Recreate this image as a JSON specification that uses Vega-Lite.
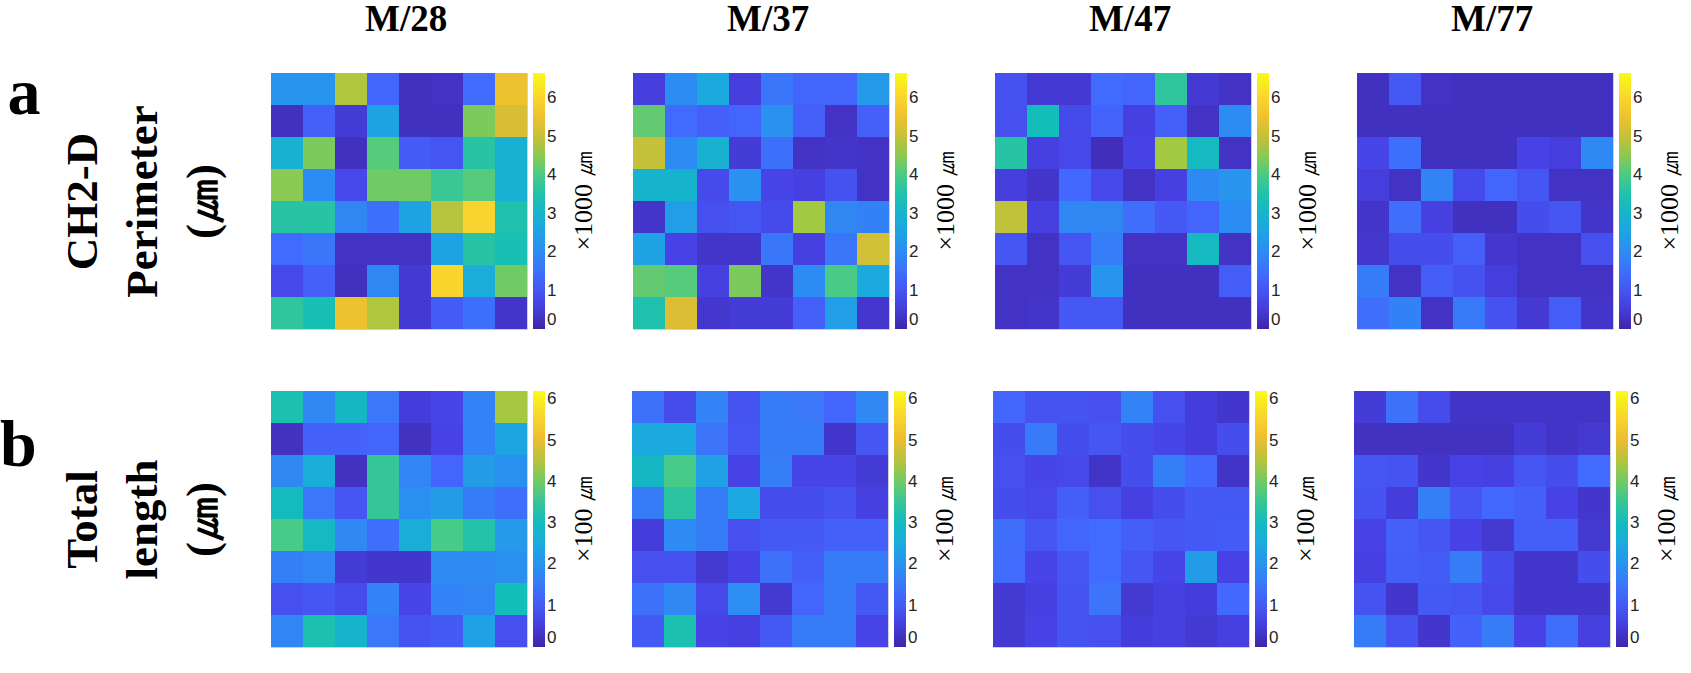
{
"$schema": "https://vega.github.io/schema/vega-lite/v6.json",
"padding": {"left": 0, "top": 0, "right": 0, "bottom": 5},
"background": "white",
"config": {
 "view": {"stroke": "#d0d0d0", "strokeWidth": 1},
 "legend": {"orient": "right", "direction": "vertical", "gradientLength": 256, "gradientThickness": 12, "offset": 6, "padding": 0, "gradientStrokeWidth": 0, "labelFont": "Liberation Sans", "labelFontSize": 17, "labelColor": "#262626", "labelOffset": 5, "labelBaseline": "middle", "labelOverlap": false, "titleOrient": "right", "titleFont": "Liberation Serif", "titleFontSize": 26, "titleFontWeight": "normal", "titleColor": "#000", "titleAnchor": "middle", "titlePadding": 15, "titleLimit": 400}
},
"datasets": {
"a28": [{"r":1,"c":1,"v":2.2},{"r":1,"c":2,"v":2.2},{"r":1,"c":3,"v":4.8},{"r":1,"c":4,"v":1.3},{"r":1,"c":5,"v":0.25},{"r":1,"c":6,"v":0.3},{"r":1,"c":7,"v":1.4},{"r":1,"c":8,"v":5.5},
{"r":2,"c":1,"v":0.25},{"r":2,"c":2,"v":1.2},{"r":2,"c":3,"v":0.5},{"r":2,"c":4,"v":2.5},{"r":2,"c":5,"v":0.25},{"r":2,"c":6,"v":0.25},{"r":2,"c":7,"v":4.4},{"r":2,"c":8,"v":5.15},
{"r":3,"c":1,"v":2.9},{"r":3,"c":2,"v":4.4},{"r":3,"c":3,"v":0.25},{"r":3,"c":4,"v":4.1},{"r":3,"c":5,"v":1.1},{"r":3,"c":6,"v":1.0},{"r":3,"c":7,"v":3.6},{"r":3,"c":8,"v":2.9},
{"r":4,"c":1,"v":4.5},{"r":4,"c":2,"v":2.0},{"r":4,"c":3,"v":0.75},{"r":4,"c":4,"v":4.3},{"r":4,"c":5,"v":4.3},{"r":4,"c":6,"v":3.8},{"r":4,"c":7,"v":4.1},{"r":4,"c":8,"v":2.9},
{"r":5,"c":1,"v":3.6},{"r":5,"c":2,"v":3.6},{"r":5,"c":3,"v":1.9},{"r":5,"c":4,"v":1.5},{"r":5,"c":5,"v":2.5},{"r":5,"c":6,"v":4.85},{"r":5,"c":7,"v":5.95},{"r":5,"c":8,"v":3.5},
{"r":6,"c":1,"v":1.4},{"r":6,"c":2,"v":1.6},{"r":6,"c":3,"v":0.3},{"r":6,"c":4,"v":0.3},{"r":6,"c":5,"v":0.3},{"r":6,"c":6,"v":2.5},{"r":6,"c":7,"v":3.6},{"r":6,"c":8,"v":3.4},
{"r":7,"c":1,"v":0.75},{"r":7,"c":2,"v":1.2},{"r":7,"c":3,"v":0.25},{"r":7,"c":4,"v":1.9},{"r":7,"c":5,"v":0.45},{"r":7,"c":6,"v":6.0},{"r":7,"c":7,"v":2.75},{"r":7,"c":8,"v":4.3},
{"r":8,"c":1,"v":3.7},{"r":8,"c":2,"v":3.4},{"r":8,"c":3,"v":5.5},{"r":8,"c":4,"v":4.8},{"r":8,"c":5,"v":0.45},{"r":8,"c":6,"v":1.1},{"r":8,"c":7,"v":1.5},{"r":8,"c":8,"v":0.35}],
"a37": [{"r":1,"c":1,"v":0.55},{"r":1,"c":2,"v":2.0},{"r":1,"c":3,"v":2.7},{"r":1,"c":4,"v":0.55},{"r":1,"c":5,"v":1.6},{"r":1,"c":6,"v":1.3},{"r":1,"c":7,"v":1.3},{"r":1,"c":8,"v":2.3},
{"r":2,"c":1,"v":4.2},{"r":2,"c":2,"v":1.4},{"r":2,"c":3,"v":1.2},{"r":2,"c":4,"v":1.3},{"r":2,"c":5,"v":2.1},{"r":2,"c":6,"v":1.2},{"r":2,"c":7,"v":0.3},{"r":2,"c":8,"v":1.2},
{"r":3,"c":1,"v":5.0},{"r":3,"c":2,"v":2.0},{"r":3,"c":3,"v":2.9},{"r":3,"c":4,"v":0.5},{"r":3,"c":5,"v":1.5},{"r":3,"c":6,"v":0.3},{"r":3,"c":7,"v":0.35},{"r":3,"c":8,"v":0.3},
{"r":4,"c":1,"v":3.0},{"r":4,"c":2,"v":3.0},{"r":4,"c":3,"v":0.8},{"r":4,"c":4,"v":2.1},{"r":4,"c":5,"v":0.7},{"r":4,"c":6,"v":0.6},{"r":4,"c":7,"v":0.95},{"r":4,"c":8,"v":0.3},
{"r":5,"c":1,"v":0.35},{"r":5,"c":2,"v":2.4},{"r":5,"c":3,"v":0.9},{"r":5,"c":4,"v":1.0},{"r":5,"c":5,"v":0.8},{"r":5,"c":6,"v":4.7},{"r":5,"c":7,"v":1.9},{"r":5,"c":8,"v":1.8},
{"r":6,"c":1,"v":2.5},{"r":6,"c":2,"v":0.65},{"r":6,"c":3,"v":0.35},{"r":6,"c":4,"v":0.35},{"r":6,"c":5,"v":1.6},{"r":6,"c":6,"v":0.6},{"r":6,"c":7,"v":1.6},{"r":6,"c":8,"v":5.1},
{"r":7,"c":1,"v":4.2},{"r":7,"c":2,"v":4.1},{"r":7,"c":3,"v":0.6},{"r":7,"c":4,"v":4.4},{"r":7,"c":5,"v":0.35},{"r":7,"c":6,"v":2.0},{"r":7,"c":7,"v":4.0},{"r":7,"c":8,"v":2.7},
{"r":8,"c":1,"v":3.5},{"r":8,"c":2,"v":5.2},{"r":8,"c":3,"v":0.4},{"r":8,"c":4,"v":0.5},{"r":8,"c":5,"v":0.5},{"r":8,"c":6,"v":1.2},{"r":8,"c":7,"v":2.4},{"r":8,"c":8,"v":0.4}],
"a47": [{"r":1,"c":1,"v":0.95},{"r":1,"c":2,"v":0.45},{"r":1,"c":3,"v":0.45},{"r":1,"c":4,"v":1.4},{"r":1,"c":5,"v":1.3},{"r":1,"c":6,"v":3.7},{"r":1,"c":7,"v":0.45},{"r":1,"c":8,"v":0.3},
{"r":2,"c":1,"v":0.9},{"r":2,"c":2,"v":3.3},{"r":2,"c":3,"v":0.8},{"r":2,"c":4,"v":1.25},{"r":2,"c":5,"v":0.6},{"r":2,"c":6,"v":1.2},{"r":2,"c":7,"v":0.3},{"r":2,"c":8,"v":2.0},
{"r":3,"c":1,"v":3.6},{"r":3,"c":2,"v":0.6},{"r":3,"c":3,"v":0.75},{"r":3,"c":4,"v":0.2},{"r":3,"c":5,"v":0.65},{"r":3,"c":6,"v":4.7},{"r":3,"c":7,"v":3.2},{"r":3,"c":8,"v":0.3},
{"r":4,"c":1,"v":0.55},{"r":4,"c":2,"v":0.35},{"r":4,"c":3,"v":1.35},{"r":4,"c":4,"v":0.75},{"r":4,"c":5,"v":0.3},{"r":4,"c":6,"v":0.6},{"r":4,"c":7,"v":1.95},{"r":4,"c":8,"v":2.2},
{"r":5,"c":1,"v":4.95},{"r":5,"c":2,"v":0.6},{"r":5,"c":3,"v":1.9},{"r":5,"c":4,"v":1.9},{"r":5,"c":5,"v":1.45},{"r":5,"c":6,"v":1.05},{"r":5,"c":7,"v":1.3},{"r":5,"c":8,"v":2.0},
{"r":6,"c":1,"v":1.0},{"r":6,"c":2,"v":0.3},{"r":6,"c":3,"v":1.0},{"r":6,"c":4,"v":1.75},{"r":6,"c":5,"v":0.3},{"r":6,"c":6,"v":0.3},{"r":6,"c":7,"v":3.2},{"r":6,"c":8,"v":0.3},
{"r":7,"c":1,"v":0.3},{"r":7,"c":2,"v":0.3},{"r":7,"c":3,"v":0.5},{"r":7,"c":4,"v":2.2},{"r":7,"c":5,"v":0.25},{"r":7,"c":6,"v":0.25},{"r":7,"c":7,"v":0.25},{"r":7,"c":8,"v":1.15},
{"r":8,"c":1,"v":0.3},{"r":8,"c":2,"v":0.35},{"r":8,"c":3,"v":1.05},{"r":8,"c":4,"v":1.05},{"r":8,"c":5,"v":0.25},{"r":8,"c":6,"v":0.25},{"r":8,"c":7,"v":0.25},{"r":8,"c":8,"v":0.25}],
"a77": [{"r":1,"c":1,"v":0.25},{"r":1,"c":2,"v":1.05},{"r":1,"c":3,"v":0.3},{"r":1,"c":4,"v":0.25},{"r":1,"c":5,"v":0.25},{"r":1,"c":6,"v":0.25},{"r":1,"c":7,"v":0.25},{"r":1,"c":8,"v":0.25},
{"r":2,"c":1,"v":0.25},{"r":2,"c":2,"v":0.25},{"r":2,"c":3,"v":0.25},{"r":2,"c":4,"v":0.25},{"r":2,"c":5,"v":0.25},{"r":2,"c":6,"v":0.25},{"r":2,"c":7,"v":0.25},{"r":2,"c":8,"v":0.25},
{"r":3,"c":1,"v":0.7},{"r":3,"c":2,"v":1.5},{"r":3,"c":3,"v":0.25},{"r":3,"c":4,"v":0.25},{"r":3,"c":5,"v":0.25},{"r":3,"c":6,"v":0.65},{"r":3,"c":7,"v":0.55},{"r":3,"c":8,"v":1.95},
{"r":4,"c":1,"v":0.55},{"r":4,"c":2,"v":0.3},{"r":4,"c":3,"v":1.85},{"r":4,"c":4,"v":0.8},{"r":4,"c":5,"v":1.3},{"r":4,"c":6,"v":1.0},{"r":4,"c":7,"v":0.3},{"r":4,"c":8,"v":0.3},
{"r":5,"c":1,"v":0.35},{"r":5,"c":2,"v":1.45},{"r":5,"c":3,"v":0.6},{"r":5,"c":4,"v":0.25},{"r":5,"c":5,"v":0.25},{"r":5,"c":6,"v":0.85},{"r":5,"c":7,"v":1.0},{"r":5,"c":8,"v":0.35},
{"r":6,"c":1,"v":0.4},{"r":6,"c":2,"v":0.85},{"r":6,"c":3,"v":0.85},{"r":6,"c":4,"v":1.2},{"r":6,"c":5,"v":0.4},{"r":6,"c":6,"v":0.3},{"r":6,"c":7,"v":0.3},{"r":6,"c":8,"v":0.9},
{"r":7,"c":1,"v":1.7},{"r":7,"c":2,"v":0.3},{"r":7,"c":3,"v":1.15},{"r":7,"c":4,"v":0.95},{"r":7,"c":5,"v":0.55},{"r":7,"c":6,"v":0.3},{"r":7,"c":7,"v":0.3},{"r":7,"c":8,"v":0.3},
{"r":8,"c":1,"v":1.45},{"r":8,"c":2,"v":1.8},{"r":8,"c":3,"v":0.3},{"r":8,"c":4,"v":1.65},{"r":8,"c":5,"v":0.95},{"r":8,"c":6,"v":0.45},{"r":8,"c":7,"v":1.15},{"r":8,"c":8,"v":0.35}],
"b28": [{"r":1,"c":1,"v":3.2},{"r":1,"c":2,"v":1.8},{"r":1,"c":3,"v":2.9},{"r":1,"c":4,"v":1.5},{"r":1,"c":5,"v":0.5},{"r":1,"c":6,"v":0.65},{"r":1,"c":7,"v":1.7},{"r":1,"c":8,"v":4.4},
{"r":2,"c":1,"v":0.25},{"r":2,"c":2,"v":1.15},{"r":2,"c":3,"v":1.15},{"r":2,"c":4,"v":1.2},{"r":2,"c":5,"v":0.25},{"r":2,"c":6,"v":0.6},{"r":2,"c":7,"v":1.7},{"r":2,"c":8,"v":2.4},
{"r":3,"c":1,"v":1.8},{"r":3,"c":2,"v":2.6},{"r":3,"c":3,"v":0.25},{"r":3,"c":4,"v":3.5},{"r":3,"c":5,"v":1.75},{"r":3,"c":6,"v":1.2},{"r":3,"c":7,"v":2.2},{"r":3,"c":8,"v":1.95},
{"r":4,"c":1,"v":3.0},{"r":4,"c":2,"v":1.5},{"r":4,"c":3,"v":0.95},{"r":4,"c":4,"v":3.5},{"r":4,"c":5,"v":1.95},{"r":4,"c":6,"v":2.2},{"r":4,"c":7,"v":1.6},{"r":4,"c":8,"v":1.35},
{"r":5,"c":1,"v":3.7},{"r":5,"c":2,"v":2.95},{"r":5,"c":3,"v":1.8},{"r":5,"c":4,"v":1.35},{"r":5,"c":5,"v":2.6},{"r":5,"c":6,"v":3.7},{"r":5,"c":7,"v":3.3},{"r":5,"c":8,"v":2.15},
{"r":6,"c":1,"v":1.65},{"r":6,"c":2,"v":1.75},{"r":6,"c":3,"v":0.45},{"r":6,"c":4,"v":0.35},{"r":6,"c":5,"v":0.35},{"r":6,"c":6,"v":1.85},{"r":6,"c":7,"v":1.85},{"r":6,"c":8,"v":1.95},
{"r":7,"c":1,"v":0.85},{"r":7,"c":2,"v":0.95},{"r":7,"c":3,"v":0.75},{"r":7,"c":4,"v":1.7},{"r":7,"c":5,"v":0.65},{"r":7,"c":6,"v":1.7},{"r":7,"c":7,"v":1.75},{"r":7,"c":8,"v":3.1},
{"r":8,"c":1,"v":1.75},{"r":8,"c":2,"v":3.2},{"r":8,"c":3,"v":2.8},{"r":8,"c":4,"v":1.5},{"r":8,"c":5,"v":0.9},{"r":8,"c":6,"v":1.0},{"r":8,"c":7,"v":2.3},{"r":8,"c":8,"v":0.85}],
"b37": [{"r":1,"c":1,"v":1.4},{"r":1,"c":2,"v":0.75},{"r":1,"c":3,"v":1.7},{"r":1,"c":4,"v":0.9},{"r":1,"c":5,"v":1.6},{"r":1,"c":6,"v":1.5},{"r":1,"c":7,"v":1.2},{"r":1,"c":8,"v":1.8},
{"r":2,"c":1,"v":2.5},{"r":2,"c":2,"v":2.5},{"r":2,"c":3,"v":1.45},{"r":2,"c":4,"v":0.95},{"r":2,"c":5,"v":1.6},{"r":2,"c":6,"v":1.6},{"r":2,"c":7,"v":0.35},{"r":2,"c":8,"v":0.95},
{"r":3,"c":1,"v":2.9},{"r":3,"c":2,"v":3.7},{"r":3,"c":3,"v":2.3},{"r":3,"c":4,"v":0.6},{"r":3,"c":5,"v":1.65},{"r":3,"c":6,"v":0.65},{"r":3,"c":7,"v":0.65},{"r":3,"c":8,"v":0.45},
{"r":4,"c":1,"v":1.6},{"r":4,"c":2,"v":3.4},{"r":4,"c":3,"v":1.6},{"r":4,"c":4,"v":2.45},{"r":4,"c":5,"v":0.8},{"r":4,"c":6,"v":0.8},{"r":4,"c":7,"v":0.9},{"r":4,"c":8,"v":0.55},
{"r":5,"c":1,"v":0.5},{"r":5,"c":2,"v":1.85},{"r":5,"c":3,"v":1.6},{"r":5,"c":4,"v":0.85},{"r":5,"c":5,"v":1.0},{"r":5,"c":6,"v":1.0},{"r":5,"c":7,"v":1.15},{"r":5,"c":8,"v":1.15},
{"r":6,"c":1,"v":0.85},{"r":6,"c":2,"v":0.85},{"r":6,"c":3,"v":0.4},{"r":6,"c":4,"v":0.6},{"r":6,"c":5,"v":1.4},{"r":6,"c":6,"v":1.1},{"r":6,"c":7,"v":1.6},{"r":6,"c":8,"v":1.6},
{"r":7,"c":1,"v":1.4},{"r":7,"c":2,"v":1.8},{"r":7,"c":3,"v":0.7},{"r":7,"c":4,"v":1.9},{"r":7,"c":5,"v":0.4},{"r":7,"c":6,"v":1.2},{"r":7,"c":7,"v":1.6},{"r":7,"c":8,"v":1.0},
{"r":8,"c":1,"v":1.0},{"r":8,"c":2,"v":3.2},{"r":8,"c":3,"v":0.6},{"r":8,"c":4,"v":0.55},{"r":8,"c":5,"v":1.0},{"r":8,"c":6,"v":1.6},{"r":8,"c":7,"v":1.6},{"r":8,"c":8,"v":0.65}],
"b47": [{"r":1,"c":1,"v":1.2},{"r":1,"c":2,"v":0.9},{"r":1,"c":3,"v":0.9},{"r":1,"c":4,"v":0.85},{"r":1,"c":5,"v":1.7},{"r":1,"c":6,"v":0.85},{"r":1,"c":7,"v":0.5},{"r":1,"c":8,"v":0.35},
{"r":2,"c":1,"v":0.8},{"r":2,"c":2,"v":1.55},{"r":2,"c":3,"v":0.8},{"r":2,"c":4,"v":0.95},{"r":2,"c":5,"v":0.8},{"r":2,"c":6,"v":0.65},{"r":2,"c":7,"v":0.5},{"r":2,"c":8,"v":0.8},
{"r":3,"c":1,"v":0.85},{"r":3,"c":2,"v":0.65},{"r":3,"c":3,"v":0.7},{"r":3,"c":4,"v":0.3},{"r":3,"c":5,"v":0.8},{"r":3,"c":6,"v":1.65},{"r":3,"c":7,"v":1.25},{"r":3,"c":8,"v":0.3},
{"r":4,"c":1,"v":0.8},{"r":4,"c":2,"v":0.7},{"r":4,"c":3,"v":1.1},{"r":4,"c":4,"v":0.85},{"r":4,"c":5,"v":0.55},{"r":4,"c":6,"v":0.8},{"r":4,"c":7,"v":1.0},{"r":4,"c":8,"v":1.0},
{"r":5,"c":1,"v":1.35},{"r":5,"c":2,"v":0.95},{"r":5,"c":3,"v":1.2},{"r":5,"c":4,"v":1.3},{"r":5,"c":5,"v":1.1},{"r":5,"c":6,"v":0.95},{"r":5,"c":7,"v":1.0},{"r":5,"c":8,"v":1.05},
{"r":6,"c":1,"v":1.3},{"r":6,"c":2,"v":0.65},{"r":6,"c":3,"v":0.95},{"r":6,"c":4,"v":1.3},{"r":6,"c":5,"v":0.95},{"r":6,"c":6,"v":0.65},{"r":6,"c":7,"v":2.2},{"r":6,"c":8,"v":0.6},
{"r":7,"c":1,"v":0.4},{"r":7,"c":2,"v":0.55},{"r":7,"c":3,"v":0.9},{"r":7,"c":4,"v":1.45},{"r":7,"c":5,"v":0.4},{"r":7,"c":6,"v":0.55},{"r":7,"c":7,"v":0.5},{"r":7,"c":8,"v":1.25},
{"r":8,"c":1,"v":0.4},{"r":8,"c":2,"v":0.6},{"r":8,"c":3,"v":0.9},{"r":8,"c":4,"v":0.85},{"r":8,"c":5,"v":0.5},{"r":8,"c":6,"v":0.55},{"r":8,"c":7,"v":0.4},{"r":8,"c":8,"v":0.55}],
"b77": [{"r":1,"c":1,"v":0.45},{"r":1,"c":2,"v":1.4},{"r":1,"c":3,"v":0.75},{"r":1,"c":4,"v":0.3},{"r":1,"c":5,"v":0.3},{"r":1,"c":6,"v":0.3},{"r":1,"c":7,"v":0.3},{"r":1,"c":8,"v":0.3},
{"r":2,"c":1,"v":0.25},{"r":2,"c":2,"v":0.25},{"r":2,"c":3,"v":0.25},{"r":2,"c":4,"v":0.25},{"r":2,"c":5,"v":0.25},{"r":2,"c":6,"v":0.45},{"r":2,"c":7,"v":0.3},{"r":2,"c":8,"v":0.4},
{"r":3,"c":1,"v":0.95},{"r":3,"c":2,"v":0.9},{"r":3,"c":3,"v":0.35},{"r":3,"c":4,"v":0.6},{"r":3,"c":5,"v":0.55},{"r":3,"c":6,"v":0.95},{"r":3,"c":7,"v":0.8},{"r":3,"c":8,"v":1.3},
{"r":4,"c":1,"v":0.9},{"r":4,"c":2,"v":0.5},{"r":4,"c":3,"v":1.65},{"r":4,"c":4,"v":0.95},{"r":4,"c":5,"v":1.25},{"r":4,"c":6,"v":1.15},{"r":4,"c":7,"v":0.6},{"r":4,"c":8,"v":0.35},
{"r":5,"c":1,"v":0.6},{"r":5,"c":2,"v":1.15},{"r":5,"c":3,"v":0.95},{"r":5,"c":4,"v":0.6},{"r":5,"c":5,"v":0.4},{"r":5,"c":6,"v":1.1},{"r":5,"c":7,"v":1.1},{"r":5,"c":8,"v":0.4},
{"r":6,"c":1,"v":0.55},{"r":6,"c":2,"v":1.1},{"r":6,"c":3,"v":1.05},{"r":6,"c":4,"v":1.6},{"r":6,"c":5,"v":0.8},{"r":6,"c":6,"v":0.35},{"r":6,"c":7,"v":0.35},{"r":6,"c":8,"v":0.8},
{"r":7,"c":1,"v":0.9},{"r":7,"c":2,"v":0.35},{"r":7,"c":3,"v":1.0},{"r":7,"c":4,"v":0.95},{"r":7,"c":5,"v":0.7},{"r":7,"c":6,"v":0.35},{"r":7,"c":7,"v":0.35},{"r":7,"c":8,"v":0.35},
{"r":8,"c":1,"v":1.6},{"r":8,"c":2,"v":0.9},{"r":8,"c":3,"v":0.35},{"r":8,"c":4,"v":1.15},{"r":8,"c":5,"v":1.6},{"r":8,"c":6,"v":0.6},{"r":8,"c":7,"v":1.35},{"r":8,"c":8,"v":0.55}]
},
"resolve": {"scale": {"color": "independent"}, "legend": {"color": "independent"}},
"spacing": 60,
"vconcat": [
{
 "title": {"text": "a", "font": "Liberation Serif", "fontWeight": "bold", "color": "#000", "orient": "left", "angle": 0, "fontSize": 66, "anchor": "end", "dx": 0, "dy": 61, "offset": -14},
 "resolve": {"scale": {"color": "independent"}, "legend": {"color": "independent"}},
 "spacing": 33,
 "hconcat": [
  {"data": {"name": "a28"}, "width": 256, "height": 256, "title": {"text": "M/28", "font": "Liberation Serif", "fontSize": 37, "fontWeight": "bold", "color": "#000", "baseline": "alphabetic", "offset": 5, "anchor": "start", "frame": "group", "dx": 94}, "mark": "rect",
   "encoding": {"x": {"field": "c", "type": "ordinal", "axis": null},
    "y": {"field": "r", "type": "ordinal", "axis": {"title": ["CH2-D", "Perimeter", "(㎛)"], "labels": false, "ticks": false, "domain": false, "titleFont": "Liberation Serif", "titleFontSize": 45, "titleFontWeight": "bold", "titleColor": "#000", "titleLineHeight": 60, "titlePadding": 46}},
    "color": {"field": "v", "type": "quantitative", "scale": {"domain": [0,0.665,1.33,1.995,2.66,3.325,3.99,4.655,5.32,5.985,6.65], "range": ["#3e26a8","#4743e7","#4367fd","#2d8cf3","#1ba9df","#12beb9","#48cb86","#9ec942","#eaba30","#fad42e","#f9fb15"], "interpolate": "rgb"}, "legend": {"title": "×1000 ㎛", "titleFontSize": 26, "titleFont": "Liberation Serif", "titleFontWeight": "normal", "labelFontSize": 17, "values": [0,1,2,3,4,5,6], "encoding": {"title": {"angle": {"value": 270}, "baseline": {"value": "top"}}}}}}},
  {"data": {"name": "a37"}, "width": 256, "height": 256, "title": {"text": "M/37", "font": "Liberation Serif", "fontSize": 37, "fontWeight": "bold", "color": "#000", "baseline": "alphabetic", "offset": 5, "anchor": "start", "frame": "group", "dx": 94}, "mark": "rect",
   "encoding": {"x": {"field": "c", "type": "ordinal", "axis": null},
    "y": {"field": "r", "type": "ordinal", "axis": null},
    "color": {"field": "v", "type": "quantitative", "scale": {"domain": [0,0.665,1.33,1.995,2.66,3.325,3.99,4.655,5.32,5.985,6.65], "range": ["#3e26a8","#4743e7","#4367fd","#2d8cf3","#1ba9df","#12beb9","#48cb86","#9ec942","#eaba30","#fad42e","#f9fb15"], "interpolate": "rgb"}, "legend": {"title": "×1000 ㎛", "titleFontSize": 26, "titleFont": "Liberation Serif", "titleFontWeight": "normal", "labelFontSize": 17, "values": [0,1,2,3,4,5,6], "encoding": {"title": {"angle": {"value": 270}, "baseline": {"value": "top"}}}}}}},
  {"data": {"name": "a47"}, "width": 256, "height": 256, "title": {"text": "M/47", "font": "Liberation Serif", "fontSize": 37, "fontWeight": "bold", "color": "#000", "baseline": "alphabetic", "offset": 5, "anchor": "start", "frame": "group", "dx": 94}, "mark": "rect",
   "encoding": {"x": {"field": "c", "type": "ordinal", "axis": null},
    "y": {"field": "r", "type": "ordinal", "axis": null},
    "color": {"field": "v", "type": "quantitative", "scale": {"domain": [0,0.665,1.33,1.995,2.66,3.325,3.99,4.655,5.32,5.985,6.65], "range": ["#3e26a8","#4743e7","#4367fd","#2d8cf3","#1ba9df","#12beb9","#48cb86","#9ec942","#eaba30","#fad42e","#f9fb15"], "interpolate": "rgb"}, "legend": {"title": "×1000 ㎛", "titleFontSize": 26, "titleFont": "Liberation Serif", "titleFontWeight": "normal", "labelFontSize": 17, "values": [0,1,2,3,4,5,6], "encoding": {"title": {"angle": {"value": 270}, "baseline": {"value": "top"}}}}}}},
  {"data": {"name": "a77"}, "width": 256, "height": 256, "title": {"text": "M/77", "font": "Liberation Serif", "fontSize": 37, "fontWeight": "bold", "color": "#000", "baseline": "alphabetic", "offset": 5, "anchor": "start", "frame": "group", "dx": 94}, "mark": "rect",
   "encoding": {"x": {"field": "c", "type": "ordinal", "axis": null},
    "y": {"field": "r", "type": "ordinal", "axis": null},
    "color": {"field": "v", "type": "quantitative", "scale": {"domain": [0,0.665,1.33,1.995,2.66,3.325,3.99,4.655,5.32,5.985,6.65], "range": ["#3e26a8","#4743e7","#4367fd","#2d8cf3","#1ba9df","#12beb9","#48cb86","#9ec942","#eaba30","#fad42e","#f9fb15"], "interpolate": "rgb"}, "legend": {"title": "×1000 ㎛", "titleFontSize": 26, "titleFont": "Liberation Serif", "titleFontWeight": "normal", "labelFontSize": 17, "values": [0,1,2,3,4,5,6], "encoding": {"title": {"angle": {"value": 270}, "baseline": {"value": "top"}}}}}}}
 ]
},
{
 "title": {"text": "b", "font": "Liberation Serif", "fontWeight": "bold", "color": "#000", "orient": "left", "angle": 0, "fontSize": 66, "anchor": "end", "dx": 0, "dy": 23, "offset": -14},
 "resolve": {"scale": {"color": "independent"}, "legend": {"color": "independent"}},
 "spacing": 33,
 "hconcat": [
  {"data": {"name": "b28"}, "width": 256, "height": 256, "mark": "rect",
   "encoding": {"x": {"field": "c", "type": "ordinal", "axis": null},
    "y": {"field": "r", "type": "ordinal", "axis": {"title": ["Total", "length", "(㎛)"], "labels": false, "ticks": false, "domain": false, "titleFont": "Liberation Serif", "titleFontSize": 45, "titleFontWeight": "bold", "titleColor": "#000", "titleLineHeight": 60, "titlePadding": 46}},
    "color": {"field": "v", "type": "quantitative", "scale": {"domain": [0,0.62,1.24,1.86,2.48,3.1,3.72,4.34,4.96,5.58,6.2], "range": ["#3e26a8","#4743e7","#4367fd","#2d8cf3","#1ba9df","#12beb9","#48cb86","#9ec942","#eaba30","#fad42e","#f9fb15"], "interpolate": "rgb"}, "legend": {"title": "×100 ㎛", "titleFontSize": 26, "titleFont": "Liberation Serif", "titleFontWeight": "normal", "labelFontSize": 17, "values": [0,1,2,3,4,5,6], "encoding": {"title": {"angle": {"value": 270}, "baseline": {"value": "top"}}}}}}},
  {"data": {"name": "b37"}, "width": 256, "height": 256, "mark": "rect",
   "encoding": {"x": {"field": "c", "type": "ordinal", "axis": null},
    "y": {"field": "r", "type": "ordinal", "axis": null},
    "color": {"field": "v", "type": "quantitative", "scale": {"domain": [0,0.62,1.24,1.86,2.48,3.1,3.72,4.34,4.96,5.58,6.2], "range": ["#3e26a8","#4743e7","#4367fd","#2d8cf3","#1ba9df","#12beb9","#48cb86","#9ec942","#eaba30","#fad42e","#f9fb15"], "interpolate": "rgb"}, "legend": {"title": "×100 ㎛", "titleFontSize": 26, "titleFont": "Liberation Serif", "titleFontWeight": "normal", "labelFontSize": 17, "values": [0,1,2,3,4,5,6], "encoding": {"title": {"angle": {"value": 270}, "baseline": {"value": "top"}}}}}}},
  {"data": {"name": "b47"}, "width": 256, "height": 256, "mark": "rect",
   "encoding": {"x": {"field": "c", "type": "ordinal", "axis": null},
    "y": {"field": "r", "type": "ordinal", "axis": null},
    "color": {"field": "v", "type": "quantitative", "scale": {"domain": [0,0.62,1.24,1.86,2.48,3.1,3.72,4.34,4.96,5.58,6.2], "range": ["#3e26a8","#4743e7","#4367fd","#2d8cf3","#1ba9df","#12beb9","#48cb86","#9ec942","#eaba30","#fad42e","#f9fb15"], "interpolate": "rgb"}, "legend": {"title": "×100 ㎛", "titleFontSize": 26, "titleFont": "Liberation Serif", "titleFontWeight": "normal", "labelFontSize": 17, "values": [0,1,2,3,4,5,6], "encoding": {"title": {"angle": {"value": 270}, "baseline": {"value": "top"}}}}}}},
  {"data": {"name": "b77"}, "width": 256, "height": 256, "mark": "rect",
   "encoding": {"x": {"field": "c", "type": "ordinal", "axis": null},
    "y": {"field": "r", "type": "ordinal", "axis": null},
    "color": {"field": "v", "type": "quantitative", "scale": {"domain": [0,0.62,1.24,1.86,2.48,3.1,3.72,4.34,4.96,5.58,6.2], "range": ["#3e26a8","#4743e7","#4367fd","#2d8cf3","#1ba9df","#12beb9","#48cb86","#9ec942","#eaba30","#fad42e","#f9fb15"], "interpolate": "rgb"}, "legend": {"title": "×100 ㎛", "titleFontSize": 26, "titleFont": "Liberation Serif", "titleFontWeight": "normal", "labelFontSize": 17, "values": [0,1,2,3,4,5,6], "encoding": {"title": {"angle": {"value": 270}, "baseline": {"value": "top"}}}}}}}
 ]
}
]
}
